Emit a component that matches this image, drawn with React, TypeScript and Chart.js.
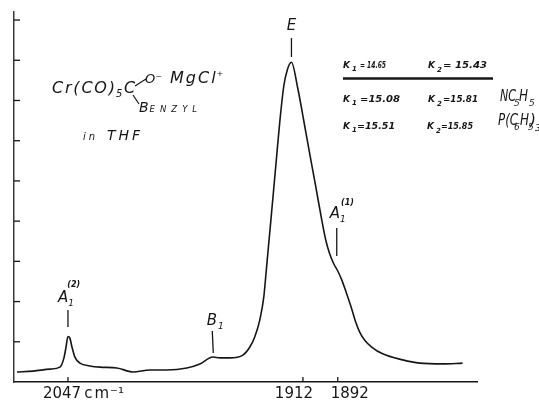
import React, { useEffect, useRef } from 'react';
import { Chart, registerables } from 'chart.js';

Chart.register(...registerables);

// ---- data ----
const WAVENUMBER = [
  2076.3, 2067.1, 2057.3, 2051.6, 2049.3, 2048.1, 2047.0, 2045.9, 2044.7, 2043.0,
  2040.1, 2034.4, 2028.6, 2018.9, 2009.7, 1999.9, 1990.2, 1978.7, 1971.2, 1963.8,
  1959.7, 1954.0, 1946.5, 1942.5, 1939.7, 1936.8, 1934.5, 1933.3, 1931.9, 1930.4,
  1929.0, 1927.3, 1925.3, 1923.0, 1921.0, 1918.6, 1915.0, 1911.5, 1908.1, 1904.6,
  1901.2, 1898.9, 1896.6, 1894.3, 1892.0, 1889.7, 1887.4, 1884.5, 1881.7, 1879.4,
  1876.5, 1872.5, 1866.2, 1854.7, 1844.9, 1831.7, 1820.3,
];
const ABSORBANCE = [
  0.25, 0.27, 0.32, 0.37, 0.6, 0.87, 1.13, 1.09, 0.87, 0.62,
  0.47, 0.4, 0.37, 0.35, 0.25, 0.3, 0.3, 0.35, 0.45, 0.62,
  0.6, 0.6, 0.67, 0.87, 1.12, 1.54, 2.11, 2.66, 3.33, 4.03,
  4.7, 5.52, 6.47, 7.36, 7.76, 7.95, 7.31, 6.49, 5.67, 4.85,
  4.03, 3.53, 3.18, 2.94, 2.76, 2.54, 2.26, 1.89, 1.49, 1.24,
  1.04, 0.87, 0.7, 0.55, 0.47, 0.45, 0.47,
];
const X_TICKS = [2047, 1912, 1892];
const X_TICK_LABELS = ['2047', '1912', '1892'];
const X_UNIT = 'cm⁻¹';
const Y_TICKS = [1, 2, 3, 4, 5, 6, 7, 8, 9];
const PEAK_NAMES = ['A', 'B', 'E', 'A'];
const PEAK_SUBS = ['1', '1', '', '1'];
const PEAK_SUPS = ['(2)', '', '', '(1)'];
const PEAK_WAVENUMBERS = [2047, 1963.8, 1918.6, 1892];
const K_ROWS = [
  ['= 14.65', '= 15.43', ''],
  ['=15.08', '=15.81', 'NC5H5'],
  ['=15.51', '=15.85', 'P(C6H5)3'],
];

const INK = '#161616';
const FAM = "'DejaVu Sans', sans-serif";
const fnt = (size: number, italic = true, bold = false) =>
  `${italic ? 'italic ' : ''}${bold ? 'bold ' : ''}${size}px ${FAM}`;

function spaced(ctx: CanvasRenderingContext2D, s: string, x: number, y: number, f: string, sp = 0) {
  ctx.font = f;
  ctx.textAlign = 'left';
  let cx = x;
  for (const ch of s) {
    ctx.fillText(ch, cx, y);
    cx += ctx.measureText(ch).width + sp;
  }
  return cx - sp;
}
function fit(ctx: CanvasRenderingContext2D, s: string, x: number, y: number, f: string, w: number) {
  ctx.font = f;
  ctx.textAlign = 'left';
  const nat = ctx.measureText(s).width || 1;
  ctx.save();
  ctx.translate(x, y);
  ctx.scale(w / nat, 1);
  ctx.fillText(s, 0, 0);
  ctx.restore();
}
function seg(ctx: CanvasRenderingContext2D, x1: number, y1: number, x2: number, y2: number, w = 1.3) {
  ctx.lineWidth = w;
  ctx.beginPath();
  ctx.moveTo(x1, y1);
  ctx.lineTo(x2, y2);
  ctx.stroke();
}

const decor = {
  id: 'decor',
  afterDraw(chart: any) {
    const { ctx, chartArea } = chart;
    const xs = chart.scales.x;
    const ys = chart.scales.y;
    ctx.save();
    ctx.strokeStyle = INK;
    ctx.fillStyle = INK;
    ctx.textBaseline = 'alphabetic';

    // inward ticks
    Y_TICKS.forEach((v) => {
      const py = ys.getPixelForValue(v);
      seg(ctx, chartArea.left, py, chartArea.left + 6, py, 1.3);
    });
    X_TICKS.forEach((v) => {
      const px = xs.getPixelForValue(v);
      seg(ctx, px, chartArea.bottom, px, chartArea.bottom - 5, 1.3);
    });

    // x tick labels (hand-lettered offsets)
    const tf = fnt(15, false);
    const xb = chartArea.bottom + 16;
    X_TICKS.forEach((v, i) => {
      const px = xs.getPixelForValue(v);
      ctx.font = tf;
      if (i === 0) {
        ctx.textAlign = 'left';
        const sx = px - 25;
        ctx.fillText(X_TICK_LABELS[i], sx, xb);
        const w = ctx.measureText(X_TICK_LABELS[i]).width;
        const end = spaced(ctx, X_UNIT.slice(0, 2), sx + w + 3, xb, tf, 2);
        spaced(ctx, X_UNIT.slice(2), end + 1, xb, fnt(15, false), 0);
      } else {
        ctx.textAlign = 'center';
        ctx.fillText(X_TICK_LABELS[i], px + (i === 1 ? -9 : 12), xb);
      }
    });

    // peak markers
    const pf = fnt(15);
    PEAK_WAVENUMBERS.forEach((w, i) => {
      const px = xs.getPixelForValue(w);
      if (i === 0) {
        seg(ctx, px, 310, px, 327);
        const e = spaced(ctx, PEAK_NAMES[i], px - 10, 302, pf);
        spaced(ctx, PEAK_SUBS[i], e, 306, fnt(9));
        spaced(ctx, PEAK_SUPS[i], e - 1, 287, fnt(8, true, true));
      } else if (i === 1) {
        seg(ctx, px - 0.5, 331, px + 0.5, 353);
        const e = spaced(ctx, PEAK_NAMES[i], px - 6, 325, pf);
        spaced(ctx, PEAK_SUBS[i], e + 1, 329, fnt(9));
      } else if (i === 2) {
        seg(ctx, px, 38, px, 57);
        ctx.font = pf;
        ctx.textAlign = 'center';
        ctx.fillText(PEAK_NAMES[i], px, 30);
      } else {
        seg(ctx, px - 1, 228, px - 1, 256);
        const e = spaced(ctx, PEAK_NAMES[i], px - 8, 218, pf);
        spaced(ctx, PEAK_SUBS[i], e, 222, fnt(9));
        spaced(ctx, PEAK_SUPS[i], e + 1, 205, fnt(8, true, true));
      }
    });

    // compound formula
    let e = spaced(ctx, 'Cr(CO)', 52, 93, fnt(16), 1.8);
    spaced(ctx, '5', e + 1, 97, fnt(10));
    spaced(ctx, 'C', e + 9, 93, fnt(16));
    seg(ctx, 135, 86, 146, 79, 1.2);
    e = spaced(ctx, 'O', 145, 83, fnt(13));
    spaced(ctx, '⁻', e, 83, fnt(13));
    e = spaced(ctx, 'MgCl', 170, 83, fnt(16), 2);
    spaced(ctx, '⁺', e + 1, 80, fnt(13));
    seg(ctx, 133, 95, 139, 104, 1.2);
    e = spaced(ctx, 'B', 139, 112, fnt(14));
    spaced(ctx, 'ENZYL', e + 1, 112, fnt(8.5), 5);
    spaced(ctx, 'in', 83, 140, fnt(10), 3);
    spaced(ctx, 'THF', 107, 140, fnt(14), 3);

    // force constant table
    const kf = fnt(9, true, true);
    const sf = fnt(7, true, true);
    const rows = [
      { b: 68, v1: [360, 26], k2: 428, v2: [443, 44] },
      { b: 102, v1: [360, 40], k2: 428, v2: [443, 35] },
      { b: 129, v1: [357, 38], k2: 427, v2: [441, 32] },
    ];
    rows.forEach((r, i) => {
      spaced(ctx, 'K', 343, r.b, kf);
      spaced(ctx, '1', 352, r.b + 3, sf);
      fit(ctx, K_ROWS[i][0], r.v1[0], r.b, kf, r.v1[1]);
      spaced(ctx, 'K', r.k2, r.b, kf);
      spaced(ctx, '2', r.k2 + 9, r.b + 4, sf);
      fit(ctx, K_ROWS[i][1], r.v2[0], r.b, kf, r.v2[1]);
    });
    seg(ctx, 343, 78.5, 493, 78.5, 2.5);
    // ligands
    const lf = fnt(15);
    const subf = fnt(9);
    const n = K_ROWS[1][2];
    fit(ctx, n.slice(0, 2), 500, 101, lf, 16);
    spaced(ctx, n[2], 514, 106, subf);
    fit(ctx, n[3], 519, 101, lf, 9);
    spaced(ctx, n[4], 529, 106, subf);
    const p = K_ROWS[2][2];
    fit(ctx, p.slice(0, 3), 498, 125, lf, 20);
    spaced(ctx, p[3], 514, 130, subf);
    fit(ctx, p[4], 520, 125, lf, 9);
    spaced(ctx, p[5], 528, 130, subf);
    spaced(ctx, p[6], 530, 125, lf);
    spaced(ctx, p[7], 535, 131, subf);

    ctx.restore();
  },
};

export default function App() {
  const ref = useRef<HTMLCanvasElement>(null);
  useEffect(() => {
    document.body.style.margin = '0';
    const canvas = ref.current!;
    const chart = new Chart(canvas, {
      type: 'line',
      data: {
        datasets: [
          {
            data: WAVENUMBER.map((w, i) => ({ x: w, y: ABSORBANCE[i] })),
            borderColor: INK,
            borderWidth: 1.6,
            pointRadius: 0,
            fill: false,
            cubicInterpolationMode: 'monotone',
          },
        ],
      },
      options: {
        animation: false,
        responsive: false,
        layout: { padding: { top: 12, right: 62, left: 0, bottom: 0 } },
        plugins: { legend: { display: false }, tooltip: { enabled: false }, title: { display: false } },
        scales: {
          x: {
            type: 'linear',
            reverse: true,
            min: 1812,
            max: 2078,
            grid: { display: false, drawTicks: false },
            border: { display: true, color: INK, width: 1.5 },
            ticks: { display: false },
            afterBuildTicks: (s: any) => {
              s.ticks = X_TICKS.map((v) => ({ value: v }));
            },
            afterFit: (s: any) => {
              s.height = 20;
            },
          },
          y: {
            type: 'linear',
            min: 0,
            max: 9.2,
            grid: { display: false, drawTicks: false },
            border: { display: true, color: '#3a3a3a', width: 1.5 },
            ticks: { display: false },
            afterBuildTicks: (s: any) => {
              s.ticks = Y_TICKS.map((v) => ({ value: v }));
            },
            afterFit: (s: any) => {
              s.width = 14;
            },
          },
        },
      } as any,
      plugins: [decor],
    });
    return () => chart.destroy();
  }, []);
  return (
    <div style={{ width: 539, height: 402, background: '#fff' }}>
      <canvas ref={ref} width={539} height={402} style={{ display: 'block' }} />
    </div>
  );
}
